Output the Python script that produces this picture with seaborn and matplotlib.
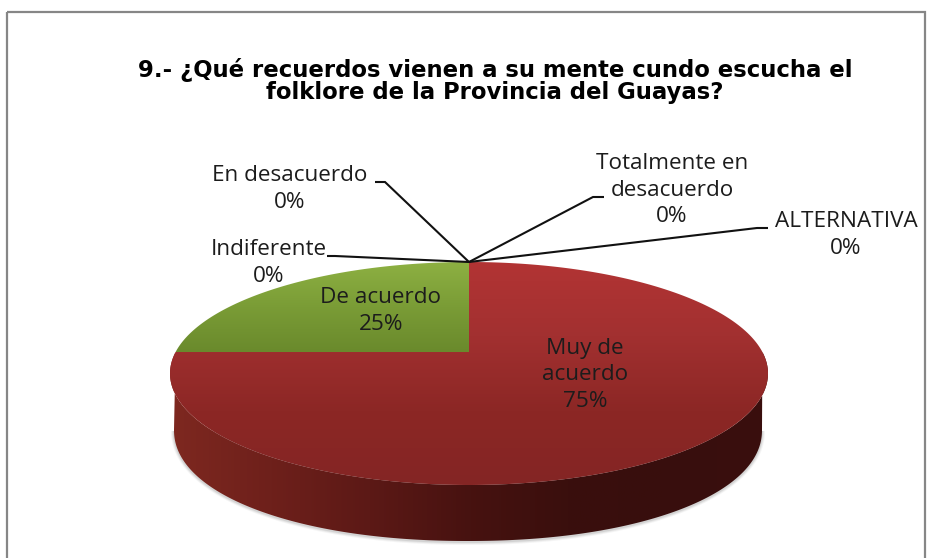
import numpy as np
import matplotlib
matplotlib.use("Agg")
import matplotlib.pyplot as plt
from matplotlib.colors import LinearSegmentedColormap
from matplotlib.patches import Polygon, Rectangle
import seaborn as sns

# ---- data (clockwise from the top of the pie) ----
categories = ["ALTERNATIVA", "Muy de\nacuerdo", "De acuerdo", "Indiferente", "En desacuerdo", "Totalmente en\ndesacuerdo"]
values = [0, 75, 25, 0, 0, 0]
title_lines = ["9.- ¿Qué recuerdos vienen a su mente cundo escucha el", "folklore de la Provincia del Guayas?"]

# ---- style / layout ----
sns.set_theme(style="white")
W, H = 933, 558
cx, cy, rx, ry = 469, 373.5, 299, 111.5      # top face ellipse
apex_y = 352                                  # perspective centre
bx, by, bry, brx, bn = 468, 430, 111, 294, 2.1  # bottom outline (superellipse)
top_cols = {"Muy de\nacuerdo": ["#B23434", "#A23030", "#8C2725", "#842524"],
            "De acuerdo": ["#8DB042", "#7A9C36", "#6A8A2C"]}
side_palette = sns.blend_palette(["#7E2820", "#6E201B", "#5C1916", "#471210", "#3A0F0D", "#380E0D", "#3A0F0E"], 64)
label_layout = {
    "ALTERNATIVA": dict(xy=(846, 235), line=[(757, 228), (768, 228)]),
    "Muy de\nacuerdo": dict(xy=(585, 375), line=None),
    "De acuerdo": dict(xy=(381, 311), line=None),
    "Indiferente": dict(xy=(269, 263), line=[(335, 256), (327, 256)]),
    "En desacuerdo": dict(xy=(290, 189), line=[(385, 182), (375, 182)]),
    "Totalmente en\ndesacuerdo": dict(xy=(672, 190), line=[(593, 197), (604, 197)]),
}
LABEL_FONT = ["Open Sans", "DejaVu Sans"]

fig = plt.figure(figsize=(W / 100, H / 100), dpi=100, facecolor="white")
ax = fig.add_axes([0, 0, 1, 1])
ax.set_axis_off()


def project(theta):
    """Unit circle angle (clockwise from top) -> pixel position on top face."""
    s = -(cy - apex_y) / ry
    u, v = np.sin(theta), np.cos(theta)
    d = 1 - s * v
    return cx + rx * u * np.sqrt(1 - s * s) / d, cy - ry * (v - s) / d


def bottom_outline(theta, grow=0.0):
    """Lower rim of the side wall."""
    sx, cy_ = np.sin(theta), np.cos(theta)
    return (bx + (brx + grow) * np.sign(sx) * np.abs(sx) ** (2 / bn),
            by - (bry + grow) * np.sign(cy_) * np.abs(cy_) ** (2 / bn))


def gradient(patch, cmap, extent, horizontal=False):
    g = np.linspace(0, 1, 256)
    g = g[None, :] if horizontal else g[:, None]
    im = ax.imshow(g, cmap=cmap, extent=extent, aspect="auto", zorder=patch.get_zorder(), interpolation="bilinear")
    ax.add_patch(patch)
    patch.set_facecolor("none")
    patch.set_edgecolor("none")
    im.set_clip_path(patch)


# soft shadow under the side wall
t = np.linspace(np.pi / 2, 3 * np.pi / 2, 200)
for grow, alpha in [(3, .06), (2, .09), (1, .13)]:
    px, py = bottom_outline(t, grow)
    ax.add_patch(Polygon(np.c_[px, py + 1], closed=True, fc="#555555", ec="none", alpha=alpha, zorder=1))

# wedges computed from the values
frac = np.array(values, dtype=float) / np.sum(values)
edges = np.r_[0, np.cumsum(frac)] * 2 * np.pi
side_cmap = LinearSegmentedColormap.from_list("side", side_palette)
for name, a, b in zip(categories, edges[:-1], edges[1:]):
    if b - a <= 0:
        continue
    # side wall: part of the wedge on the front half
    lo, hi = max(a, np.pi / 2), min(b, 3 * np.pi / 2)
    if hi > lo:
        t = np.linspace(lo, hi, 300)
        ox, oy = bottom_outline(t)
        tx, ty = project(np.linspace(hi, lo, 200))
        wall = Polygon(np.r_[np.c_[ox, oy], np.c_[tx, ty]], closed=True, zorder=2)
        gradient(wall, side_cmap, (170, 768, 560, 260), horizontal=True)
    # top face
    t = np.linspace(a, b, 300)
    tx, ty = project(t)
    pts = np.r_[[[cx, apex_y]], np.c_[tx, ty]]
    face = Polygon(pts, closed=True, zorder=3)
    cmap = LinearSegmentedColormap.from_list(f"top{a}", top_cols[name])
    gradient(face, cmap, (170, 768, pts[:, 1].max(), pts[:, 1].min()))

# leader lines and labels
top_x, top_y = project(0.0)
for name, val in zip(categories, values):
    lay = label_layout[name]
    if lay["line"]:
        xs = [top_x] + [p[0] for p in lay["line"]]
        ys = [top_y] + [p[1] for p in lay["line"]]
        ax.plot(xs, ys, color="#111111", lw=1.5, zorder=4, solid_capstyle="butt", solid_joinstyle="miter")
    pct = f"{val / sum(values):.0%}"
    ax.text(*lay["xy"], f"{name}\n{pct}", ha="center", va="center", fontsize=16.2,
            family=LABEL_FONT, color="#1c1c1c", linespacing=1.33, zorder=5)

# title
for y, line in zip((70, 93), title_lines):
    ax.text(495, y, line, ha="center", va="center", fontsize=16.4, fontweight="bold",
            family=["DejaVu Sans"], color="black", zorder=5)

# chart frame
ax.add_patch(Rectangle((7, 12), 918, 560, fc="none", ec="#868686", lw=1.6, zorder=6))

ax.set_xlim(0, W)
ax.set_ylim(H, 0)
fig.savefig("out.png", dpi=100, facecolor="white")
